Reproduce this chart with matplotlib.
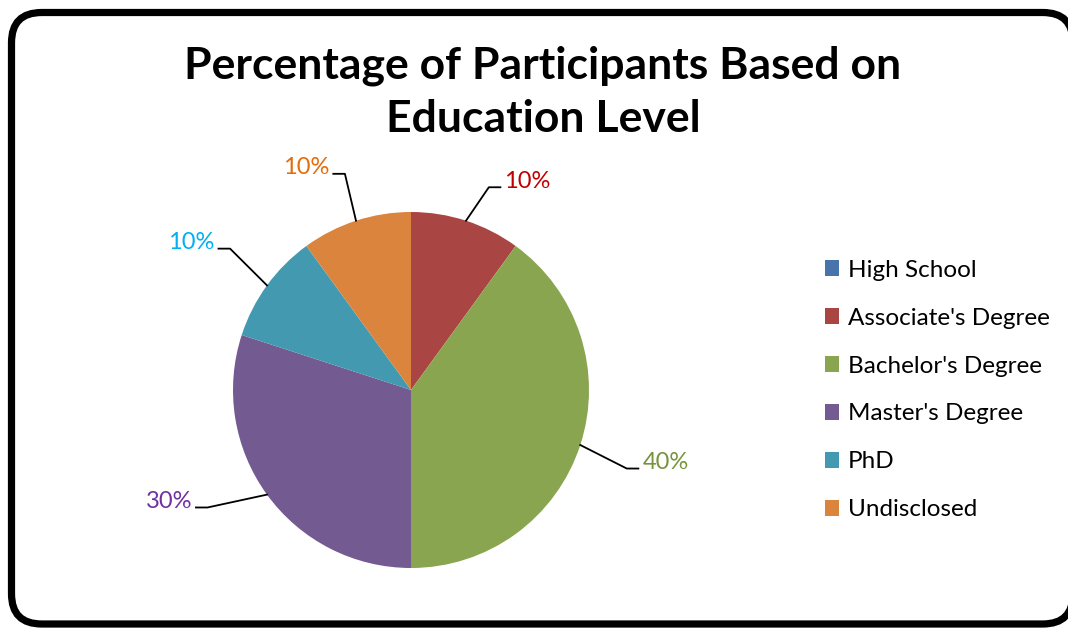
import numpy as np
import matplotlib
matplotlib.use("Agg")
import matplotlib.pyplot as plt
from matplotlib.patches import FancyBboxPatch

# Data
categories = ["High School", "Associate's Degree", "Bachelor's Degree",
              "Master's Degree", "PhD", "Undisclosed"]
percentages = [0, 10, 40, 30, 10, 10]
slice_colors = ["#4674AB", "#A94644", "#8AA54F", "#735A90", "#4399B0", "#DB843D"]
label_colors = ["#4674AB", "#C00000", "#77933C", "#7030A0", "#00B0F0", "#E46C0A"]
title = "Percentage of Participants Based on\nEducation Level"

plt.rcParams['font.family'] = ['Lato', 'DejaVu Sans']

W, H = 1068, 628
CX, CY, R = 411, 390, 178  # pie centre / radius in pixels

fig = plt.figure(figsize=(W / 100, H / 100), dpi=100)
ax = fig.add_axes([0, 0, 1, 1])
ax.set_xlim(-CX / R, (W - CX) / R)
ax.set_ylim(-(H - CY) / R, CY / R)
ax.set_aspect('equal')
ax.axis('off')


def px(x, y):
    # pixel position -> data coords
    return (x - CX) / R, (CY - y) / R


# rounded border
x0, y0 = px(11.5, 624)
x1, y1 = px(1073, 12.5)
box = FancyBboxPatch((x0, y0), x1 - x0, y1 - y0,
                     boxstyle="round,pad=0,rounding_size=0.17",
                     fc='white', ec='black', lw=5.2, zorder=0)
ax.add_patch(box)

wedges, _ = ax.pie(percentages, colors=slice_colors, startangle=90,
                   counterclock=False, radius=1, center=(0, 0),
                   wedgeprops=dict(linewidth=0))
ax.set_xlim(-CX / R, (W - CX) / R)
ax.set_ylim(-(H - CY) / R, CY / R)

# leader lines and labels
elbow_r = [1.27, 1.22, 1.29, 1.32, 1.29, 1.27]
elbow_shift = [0, -3, -2, -6, -2, -1]
for w, p, col, er, sh in zip(wedges, percentages, label_colors, elbow_r, elbow_shift):
    if p == 0:
        continue
    mid = np.deg2rad((w.theta1 + w.theta2) / 2 + sh)
    mid0 = np.deg2rad((w.theta1 + w.theta2) / 2)
    ex, ey = np.cos(mid0), np.sin(mid0)
    kx, ky = er * np.cos(mid), er * np.sin(mid)
    side = 1 if kx > 0 else -1
    hx = kx + side * 0.065
    ax.plot([ex, kx, hx], [ey, ky, ky], color='black', lw=1.3, zorder=3)
    ax.text(hx + side * 0.022, ky + 0.035, f"{p}%", color=col, fontsize=17,
            ha='left' if side > 0 else 'right', va='center')

fig.text(543 / W, 1 - 92 / H, title, ha='center', va='center',
         fontsize=32, fontweight='bold', linespacing=1.38)

leg = ax.legend(wedges, categories, loc='center left',
                bbox_to_anchor=(803 / W, 1 - 390 / H), bbox_transform=fig.transFigure,
                frameon=False, fontsize=17.5, handlelength=0.6, handleheight=0.6,
                handletextpad=0.35, labelspacing=1.11)

fig.savefig("out.png", dpi=100)
